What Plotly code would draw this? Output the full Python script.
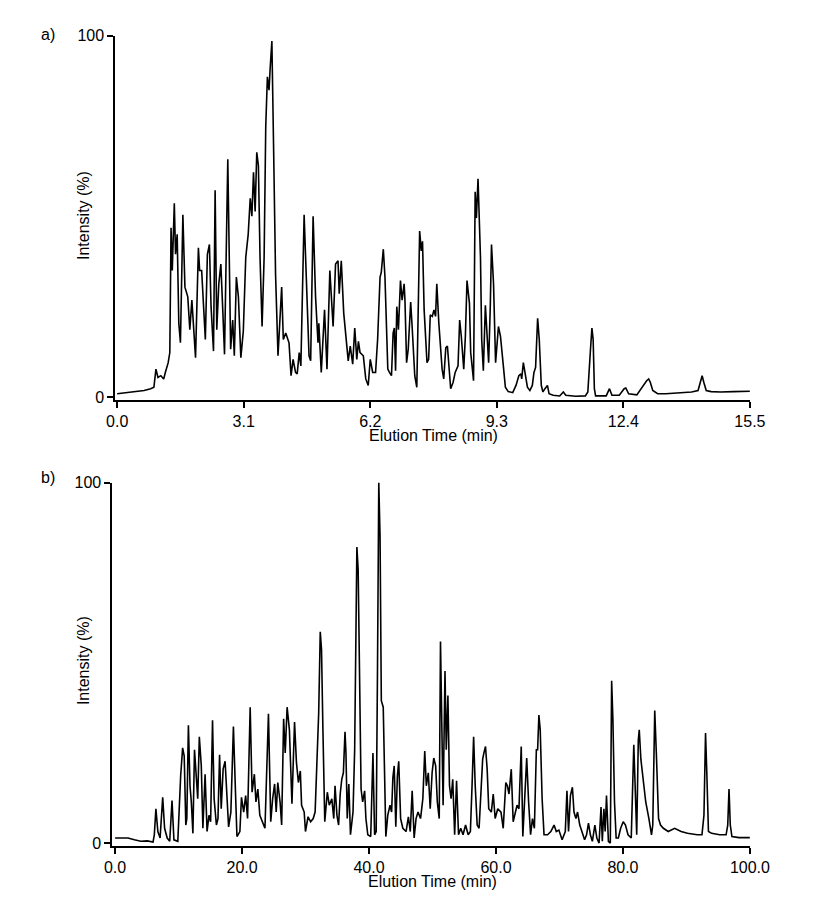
import plotly.graph_objects as go

# panel a: short gradient (0-15.5 min)
time_a = [
    0.00, 0.35, 0.66, 0.82, 0.90, 0.95, 1.00, 1.07, 1.14, 1.18,
    1.25, 1.29, 1.32, 1.35, 1.40, 1.43, 1.47, 1.51, 1.55, 1.61,
    1.66, 1.73, 1.78, 1.83, 1.86, 1.92, 1.99, 2.02, 2.07, 2.12,
    2.16, 2.21, 2.26, 2.30, 2.36, 2.40, 2.44, 2.49, 2.54, 2.59,
    2.63, 2.71, 2.78, 2.83, 2.87, 2.92, 2.97, 3.03, 3.09, 3.15,
    3.21, 3.26, 3.30, 3.34, 3.38, 3.42, 3.46, 3.50, 3.55, 3.60,
    3.64, 3.68, 3.72, 3.75, 3.79, 3.83, 3.88, 3.94, 3.97, 4.03,
    4.07, 4.13, 4.21, 4.26, 4.31, 4.37, 4.41, 4.46, 4.50, 4.58,
    4.65, 4.70, 4.74, 4.80, 4.86, 4.92, 4.94, 5.00, 5.08, 5.14,
    5.21, 5.29, 5.35,
    5.41, 5.44, 5.49, 5.55, 5.61, 5.66, 5.71, 5.77, 5.82, 5.87,
    5.91, 5.95, 6.03, 6.09, 6.15, 6.20, 6.26, 6.33, 6.38, 6.44,
    6.47, 6.52, 6.56, 6.63, 6.67, 6.72, 6.76, 6.79, 6.82, 6.85,
    6.89, 6.94, 6.98, 7.03, 7.05, 7.09, 7.13, 7.19, 7.23, 7.29,
    7.34, 7.41, 7.45, 7.48, 7.52, 7.59, 7.63, 7.67, 7.72, 7.76,
    7.80, 7.83, 7.88, 7.92, 7.96, 8.00, 8.05, 8.09, 8.13, 8.17,
    8.23, 8.28, 8.35, 8.39, 8.43, 8.49, 8.53, 8.57, 8.63, 8.66,
    8.71, 8.73, 8.77, 8.80, 8.84, 8.90, 8.93, 8.97, 9.02, 9.06,
    9.10, 9.14, 9.17, 9.22, 9.27, 9.34, 9.39, 9.46, 9.51, 9.58,
    9.69, 9.77, 9.84, 9.89, 9.91, 9.95, 10.00, 10.05, 10.11, 10.17,
    10.21, 10.25, 10.30, 10.34, 10.39, 10.43, 10.48, 10.54, 10.58, 10.68,
    10.84,
    10.88, 10.93, 10.99, 11.23, 11.47, 11.53, 11.59, 11.63, 11.66, 11.69,
    11.72, 11.98, 12.06, 12.12, 12.30, 12.42, 12.46, 12.53, 12.73, 12.83,
    12.90, 12.97, 13.02, 13.06, 13.12, 13.24, 13.44, 13.64, 13.84, 14.07,
    14.23, 14.29, 14.33, 14.37, 14.43, 14.55, 14.78, 15.10, 15.33, 15.50,
]
intensity_a = [
    0.9, 1.4, 1.8, 2.3, 2.7, 7.7, 5.4, 5.9, 5.0, 6.8,
    9.5, 12.3, 46.8, 35.0, 53.6, 39.5, 45.0, 20.4, 15.0, 50.4,
    30.4, 27.7, 18.6, 26.8, 20.4, 10.9, 41.3, 35.0, 35.0, 25.0,
    15.9, 39.5, 42.2, 25.0, 12.7, 57.2, 18.6, 31.3, 36.8, 23.2,
    11.8, 65.8, 13.2, 21.3, 11.4, 33.2, 27.7, 10.9, 18.2, 38.6,
    45.0, 55.0, 50.0, 62.2, 51.3, 67.7, 64.0, 38.6, 19.5, 38.6,
    74.9, 88.6, 84.9, 91.3, 98.5, 70.4, 34.1, 11.4, 18.6, 30.4,
    15.9, 17.7, 15.0, 5.9, 10.4, 6.8, 6.4, 12.3, 8.6, 50.4,
    27.7, 11.4, 10.0, 50.0, 27.7, 15.0, 20.4, 6.8, 24.1, 7.7,
    35.0, 19.5, 36.8,
    37.7, 28.6, 37.7, 23.2, 15.0, 10.0, 14.1, 9.1, 19.1, 10.4,
    15.4, 12.3, 11.4, 5.0, 3.2, 10.4, 6.8, 6.8, 15.9, 33.2,
    34.5, 40.9, 33.2, 7.7, 6.8, 5.9, 17.7, 19.1, 7.3, 25.0,
    18.6, 32.2, 26.8, 31.3, 26.8, 9.5, 13.2, 26.3, 18.6, 5.9,
    2.7, 45.9, 40.4, 43.1, 24.1, 9.5, 10.4, 22.7, 22.3, 24.1,
    22.3, 31.3, 20.4, 13.2, 7.7, 5.0, 13.6, 14.1, 8.6, 2.3,
    4.1, 6.8, 8.6, 21.3, 16.8, 7.7, 16.8, 32.2, 25.9, 12.3,
    6.8, 4.5, 56.8, 49.5, 60.4, 38.6, 15.9, 7.3, 25.4, 15.9,
    9.5, 25.0, 42.2, 31.3, 9.5, 19.5, 16.8, 8.6, 2.7, 1.5,
    1.2, 3.2, 5.9, 6.4, 5.0, 9.5, 6.4, 2.7, 1.8, 3.2,
    6.8, 8.2, 21.8, 15.9, 3.2, 1.4, 2.3, 3.2, 0.9, 0.5,
    0.3,
    0.9, 1.4, 0.5, 0.2, 0.3, 1.4, 12.3, 19.1, 15.9, 2.3,
    0.3, 0.3, 2.3, 0.5, 0.5, 2.3, 2.5, 0.9, 0.6, 2.3,
    3.6, 4.5, 5.0, 4.1, 1.8, 0.9, 0.9, 1.1, 1.2, 1.4,
    1.8, 4.1, 5.9, 4.1, 1.8, 1.5, 1.4, 1.5, 1.5, 1.6,
]

# panel b: long gradient (0-100 min)
time_b = [
    0.00, 1.01, 2.03, 3.04, 4.05, 5.07, 5.98, 6.18, 6.43, 6.74,
    7.09, 7.50, 7.80, 8.21, 8.61, 8.97, 9.27, 9.88, 10.13, 10.33,
    10.64, 10.89, 11.14, 11.30, 11.55, 11.80, 12.01, 12.26, 12.51, 12.77,
    13.02, 13.27, 13.58, 13.83, 14.18, 14.49, 14.79, 15.05, 15.35, 15.60,
    15.96, 16.21, 16.46, 16.72, 17.02, 17.33, 17.63, 17.88, 18.24, 18.64,
    19.00, 19.20, 19.66, 19.91, 20.26, 20.57, 20.87, 21.28, 21.58, 21.94,
    22.19, 22.49, 22.80, 23.20, 23.61, 24.16, 24.52, 24.82, 25.13, 25.38,
    25.63, 25.99, 26.24, 26.55, 26.80, 27.10, 27.46, 27.86, 28.27, 28.57,
    28.88, 29.18, 29.38, 29.79, 29.99, 30.40, 30.80, 31.21, 31.51, 31.81,
    32.07, 32.32, 32.52, 32.73, 33.03, 33.43, 33.74, 34.14, 34.45, 34.65,
    34.95,
    35.21, 35.46, 35.71, 35.96, 36.22, 36.37, 36.57, 36.82, 37.08, 37.48,
    37.74, 37.94, 38.09, 38.29, 38.50, 38.75, 39.00, 39.31, 39.51, 39.81,
    40.27, 40.62, 40.88, 41.13, 41.33, 41.54, 41.74, 41.94, 42.24, 42.45,
    42.65, 42.95, 43.31, 43.56, 43.76, 43.97, 44.22, 44.47, 44.68, 44.98,
    45.33, 45.84, 46.20, 46.50, 46.80, 47.11, 47.41, 47.72, 48.12, 48.48,
    48.78, 49.03, 49.34, 49.64, 49.94, 50.20, 50.50, 50.76, 51.06, 51.26,
    51.46, 51.67, 51.97, 52.17, 52.43, 52.68, 52.93, 53.19, 53.49, 53.79,
    54.10, 54.45, 54.81, 55.21, 55.62, 55.97, 56.23, 56.48, 56.73, 57.04,
    57.34, 57.65, 57.90, 58.10, 58.35, 58.61, 58.86, 59.27, 59.57, 59.87,
    60.28, 60.79, 61.14, 61.55, 61.80, 62.05, 62.41, 62.71, 63.01, 63.32,
    63.62, 63.98, 64.23, 64.53, 64.84, 65.14, 65.45, 65.75, 66.05, 66.36,
    66.56, 66.76, 66.97, 67.27, 67.57, 68.13, 68.64, 69.15, 69.50, 69.91,
    70.42, 70.92, 71.18, 71.43, 71.73, 72.04, 72.29, 72.59, 72.85, 73.20,
    73.56, 73.96, 74.27, 74.57, 74.87, 75.18, 75.58, 75.89, 76.24, 76.55,
    76.75, 77.00, 77.20, 77.41, 77.71, 78.01, 78.22, 78.42, 78.67, 78.93,
    79.28, 79.64, 80.04, 80.40, 80.80, 81.31, 81.71, 81.97, 82.17, 82.42,
    82.57, 82.83, 83.18, 83.59, 84.09, 84.50, 84.70, 85.01, 85.26, 85.61,
    85.92, 86.37, 87.13, 88.15, 89.16, 90.17, 91.69, 92.45, 92.76, 93.01,
    93.21, 93.47, 93.97, 95.24, 96.25, 96.51, 96.71, 96.91, 97.17, 98.28,
    100.0,
]
intensity_b = [
    1.4, 1.5, 1.4, 0.9, 0.5, 0.6, 0.3, 2.3, 9.5, 3.2,
    1.4, 12.7, 4.1, 1.4, 0.5, 11.8, 0.9, 0.5, 13.2, 18.6,
    26.4, 24.1, 5.0, 6.8, 32.7, 15.9, 11.4, 2.7, 25.9, 17.7,
    12.3, 29.5, 21.4, 4.1, 19.1, 3.2, 7.7, 5.9, 34.1, 12.3,
    5.0, 6.8, 24.5, 9.5, 20.5, 22.7, 13.2, 4.5, 8.6, 32.3,
    12.3, 1.8, 3.2, 12.7, 8.6, 13.2, 6.8, 37.7, 14.1, 19.1,
    11.4, 15.0, 7.7, 5.9, 4.1, 35.9, 5.9, 12.3, 16.4, 8.6,
    16.8, 11.4, 5.0, 34.5, 25.0, 37.7, 31.4, 10.9, 33.6, 22.3,
    16.8, 20.0, 10.5, 8.6, 3.2, 7.3, 5.9, 6.8, 8.6, 23.2,
    35.9, 58.6, 53.6, 32.3, 5.9, 14.1, 10.5, 12.3, 6.8, 15.9,
    7.7,
    5.0, 13.6, 17.7, 19.5, 30.9, 25.0, 6.8, 16.4, 2.3, 8.6,
    25.9, 66.8, 82.1, 75.9, 44.1, 15.0, 11.4, 14.5, 6.8, 2.3,
    1.8, 25.0, 2.3, 3.2, 46.8, 100.0, 85.0, 39.5, 37.7, 14.1,
    1.8, 7.7, 10.5, 8.6, 18.2, 21.4, 4.5, 18.6, 22.7, 6.8,
    4.1, 3.2, 7.3, 3.2, 14.5, 1.4, 6.8, 8.6, 6.8, 12.3,
    25.5, 15.9, 19.5, 9.5, 19.5, 23.6, 21.4, 11.4, 6.8, 55.9,
    35.0, 10.5, 47.7, 25.9, 40.9, 15.9, 12.3, 17.7, 2.3, 17.3,
    2.3, 4.1, 2.3, 5.0, 2.3, 3.2, 15.9, 29.5, 15.9, 5.0,
    4.1, 15.9, 23.2, 25.0, 26.8, 20.5, 9.5, 8.6, 13.6, 6.8,
    9.5, 8.6, 4.1, 16.8, 15.9, 13.6, 20.5, 5.9, 8.6, 10.5,
    9.5, 26.8, 1.8, 14.1, 23.6, 11.4, 2.3, 6.8, 4.1, 25.9,
    25.9, 35.5, 31.4, 12.3, 2.3, 2.3, 3.2, 5.0, 3.2, 3.6,
    0.9, 3.2, 14.5, 3.2, 13.2, 15.5, 8.6, 6.8, 8.6, 5.0,
    3.2, 0.9, 2.3, 5.5, 2.3, 0.5, 5.0, 1.4, 0.0, 10.0,
    0.5, 9.5, 3.2, 13.2, 0.5, 0.0, 45.0, 34.1, 11.4, 1.4,
    1.4, 4.1, 5.9, 5.0, 2.3, 1.4, 27.3, 10.5, 2.3, 28.6,
    31.4, 23.2, 17.7, 11.4, 6.8, 2.3, 5.0, 36.8, 25.0, 6.8,
    5.0, 4.1, 3.2, 4.1, 3.2, 2.7, 2.3, 2.3, 7.7, 30.5,
    19.5, 3.2, 2.7, 2.3, 2.3, 5.0, 15.0, 5.0, 1.8, 1.5,
    1.5,
]

ticks_a = [0.0, 3.1, 6.2, 9.3, 12.4, 15.5]
ticks_b = [0.0, 20.0, 40.0, 60.0, 80.0, 100.0]
ticks_y = [0, 100]

W, H = 822, 913
FONT = "Liberation Sans, Arial, sans-serif"

fig = go.Figure()
fig.add_trace(go.Scatter(x=time_a, y=intensity_a, mode="lines",
                         line=dict(color="black", width=1.6),
                         xaxis="x", yaxis="y", hoverinfo="x+y"))
fig.add_trace(go.Scatter(x=time_b, y=intensity_b, mode="lines",
                         line=dict(color="black", width=1.6),
                         xaxis="x2", yaxis="y2", hoverinfo="x+y"))

axis_style = dict(showline=True, linecolor="black", linewidth=1.5,
                  ticks="outside", ticklen=6, tickwidth=1.5, tickcolor="black",
                  showgrid=False, zeroline=False,
                  tickfont=dict(family=FONT, size=16, color="black"))

fig.update_layout(
    width=W, height=H,
    margin=dict(l=0, r=0, t=0, b=0),
    paper_bgcolor="white", plot_bgcolor="white",
    showlegend=False,
    font=dict(family=FONT, color="black"),
    xaxis=dict(domain=[110 / W, 768 / W], range=[-0.05, 15.5], anchor="y",
               tickvals=ticks_a, tickformat=".1f", **axis_style),
    yaxis=dict(domain=[1 - 398 / H, 1 - 28 / H], range=[-0.8, 100], anchor="x",
               tickvals=ticks_y, **axis_style),
    xaxis2=dict(domain=[107 / W, 768 / W], range=[-0.45, 100], anchor="y2",
                tickvals=ticks_b, tickformat=".1f", **axis_style),
    yaxis2=dict(domain=[1 - 851 / H, 1 - 482 / H], range=[-0.8, 100], anchor="x2",
                tickvals=ticks_y, **axis_style),
)

label_font = dict(family=FONT, size=16, color="black")
notes = [
    dict(text="a)", x=40 / W, y=1 - 27 / H),
    dict(text="b)", x=40 / W, y=1 - 477 / H),
    dict(text="Intensity (%)", x=78 / W, y=1 - 211 / H, textangle=-90),
    dict(text="Intensity (%)", x=78 / W, y=1 - 663 / H, textangle=-90),
    dict(text="Elution Time (min)", x=440 / W, y=1 - 434 / H),
    dict(text="Elution Time (min)", x=439 / W, y=1 - 887 / H),
]
for n in notes:
    fig.add_annotation(xref="paper", yref="paper", showarrow=False,
                       xanchor="center", yanchor="middle", font=label_font, **n)

# drop the default page margin so the figure sits at the window origin
fig.write_html("out.html", config={"displayModeBar": False},
               post_script="document.body.style.margin='0';"
                           "document.body.style.overflow='hidden';")
